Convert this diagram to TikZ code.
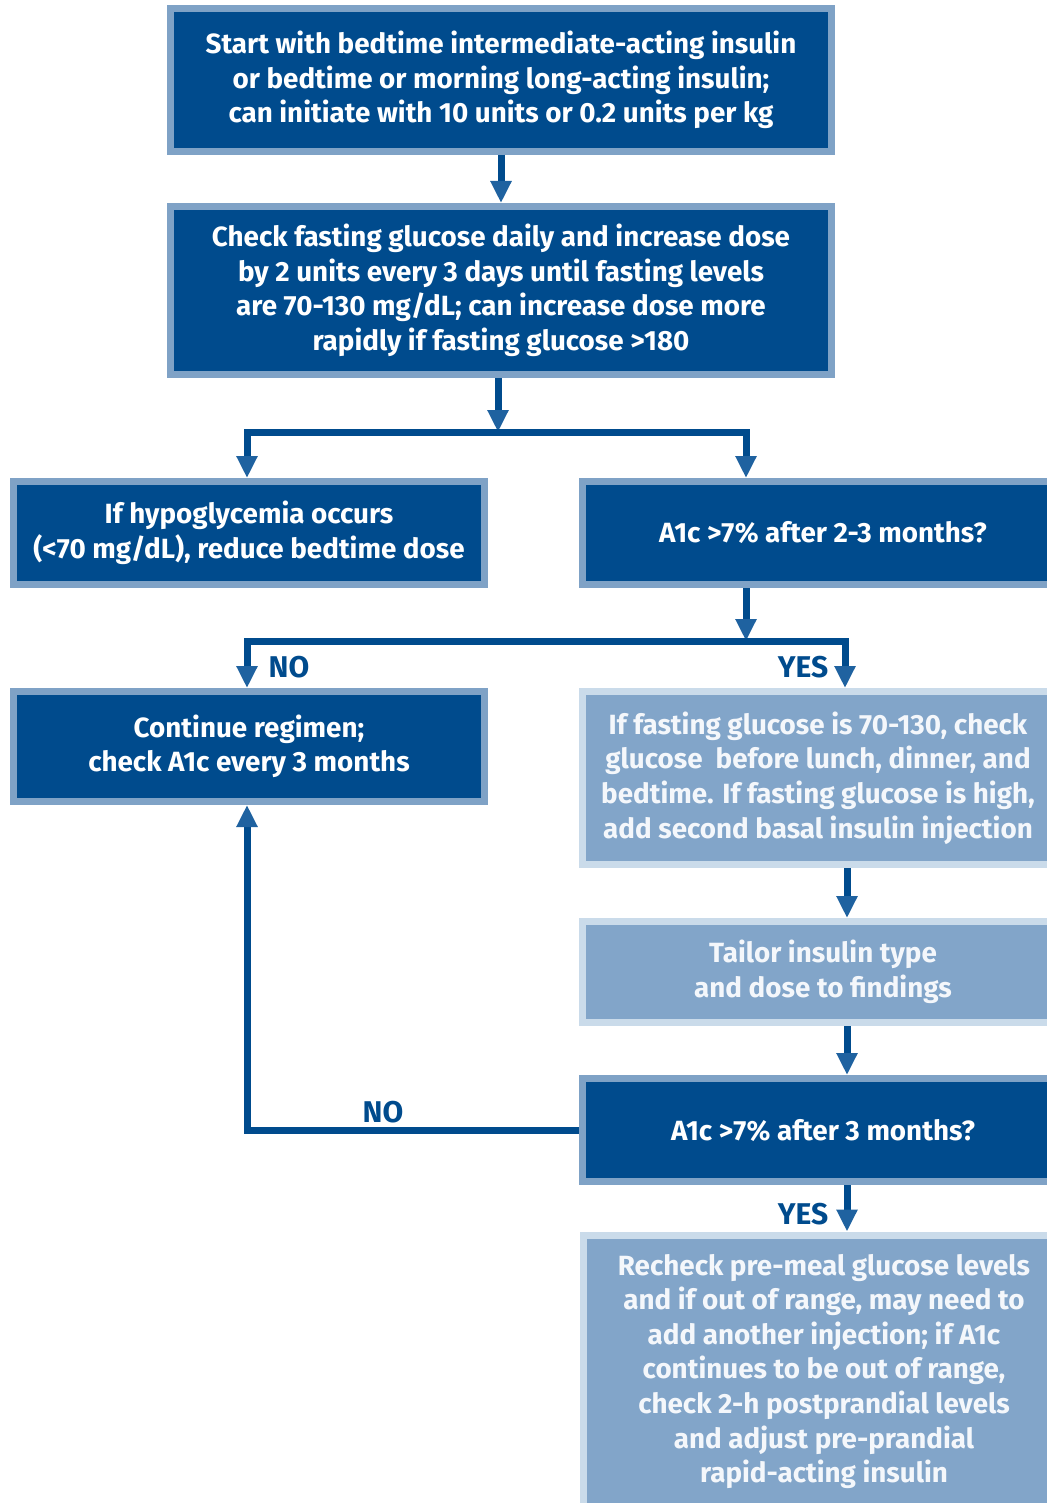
\documentclass[tikz,border=0pt]{standalone}
\usepackage{fontspec}
\setmainfont{Fira Sans}
\usetikzlibrary{arrows.meta}
\definecolor{darkb}{HTML}{004B8D}
\definecolor{darkedge}{HTML}{7FA2C6}
\definecolor{lightb}{HTML}{82A5C9}
\definecolor{lightedge}{HTML}{CADBEA}
\definecolor{tipb}{HTML}{1F62A0}
\definecolor{paletext}{HTML}{F4F7FB}
\tikzset{
  x=1pt, y=-1pt,
  box/.style={draw=darkedge, fill=darkb, line width=7pt, text=white, align=center,
    font=\bfseries\fontsize{27.8}{34.6}\selectfont, inner sep=0pt},
  lbox/.style={box, draw=lightedge, fill=lightb, text=paletext},
  conn/.style={draw=darkb, line width=7pt, line join=miter,
    -{Triangle[width=20pt,length=22pt,color=tipb]}},
  lab/.style={text=darkb, font=\bfseries\fontsize{30}{32}\selectfont, inner sep=0pt}
}
\begin{document}
\begin{tikzpicture}
\useasboundingbox (0,0) rectangle (1046,1503);
\node[box, minimum width=661pt, minimum height=143pt] (b1) at (501,80)
  {Start with bedtime intermediate-acting insulin\\or bedtime or morning long-acting insulin;\\can initiate with 10 units or 0.2 units per kg};
\node[box, minimum width=661pt, minimum height=168pt] (b2) at (501,290.5)
  {Check fasting glucose daily and increase dose\\by 2 units every 3 days until fasting levels\\are 70-130 mg/dL; can increase dose more\\rapidly if fasting glucose >180};
\node[box, minimum width=471pt, minimum height=103pt] (b3) at (249,533)
  {If hypoglycemia occurs\\(<70 mg/dL), reduce bedtime dose};
\node[box, minimum width=481pt, minimum height=103pt] (b4) at (823,533)
  {A1c >7\% after 2-3 months?};
\node[box, minimum width=471pt, minimum height=110pt] (b5) at (249,746.5)
  {Continue regimen;\\check A1c every 3 months};
\node[lbox, minimum width=471pt, minimum height=173pt] (b6) at (818,778)
  {If fasting glucose is 70-130, check\\glucose \ before lunch, dinner, and\\bedtime. If fasting glucose is high,\\add second basal insulin injection};
\node[lbox, minimum width=481pt, minimum height=101pt] (b7) at (823,972)
  {Tailor insulin type\\and dose to findings};
\node[box, minimum width=481pt, minimum height=103pt] (b8) at (823,1130)
  {A1c >7\% after 3 months?};
\node[lbox, minimum width=481pt, minimum height=273pt] (b9) at (824,1371.5)
  {Recheck pre-meal glucose levels\\and if out of range, may need to\\add another injection; if A1c\\continues to be out of range,\\check 2-h postprandial levels\\and adjust pre-prandial\\rapid-acting insulin};

\coordinate (j1) at (498,432);
\coordinate (j1l) at (247,432);
\coordinate (j1r) at (746,432);
\coordinate (j2) at (746,641);
\coordinate (j2l) at (247,641);
\coordinate (j2r) at (845,641);
\coordinate (cx) at (847,0);

\draw[conn] (b1.south) -- (b2.north);
\draw[conn] (b2.south -| j1) -- (j1);
\draw[conn] (j1) -- (j1l) -- (j1l |- b3.north);
\draw[conn] (j1) -- (j1r) -- (j1r |- b4.north);
\draw[conn] (b4.south -| j2) -- (j2);
\draw[conn] (j2) -- (j2l) -- (j2l |- b5.north);
\draw[conn] (j2) -- (j2r) -- (j2r |- b6.north);
\draw[conn] (b6.south -| cx) -- (b7.north -| cx);
\draw[conn] (b7.south -| cx) -- (b8.north -| cx);
\draw[conn] (b8.south -| cx) -- (b9.north -| cx);
\draw[conn] (b8.west) -- (b8.west -| j1l) -- (b5.south -| j1l);

\node[lab] (no1) at (289,667) {NO};
\node[lab] (yes1) at (803,667) {YES};
\node[lab] (no2) at (383,1112) {NO};
\node[lab] (yes2) at (803,1214) {YES};
\end{tikzpicture}
\end{document}
